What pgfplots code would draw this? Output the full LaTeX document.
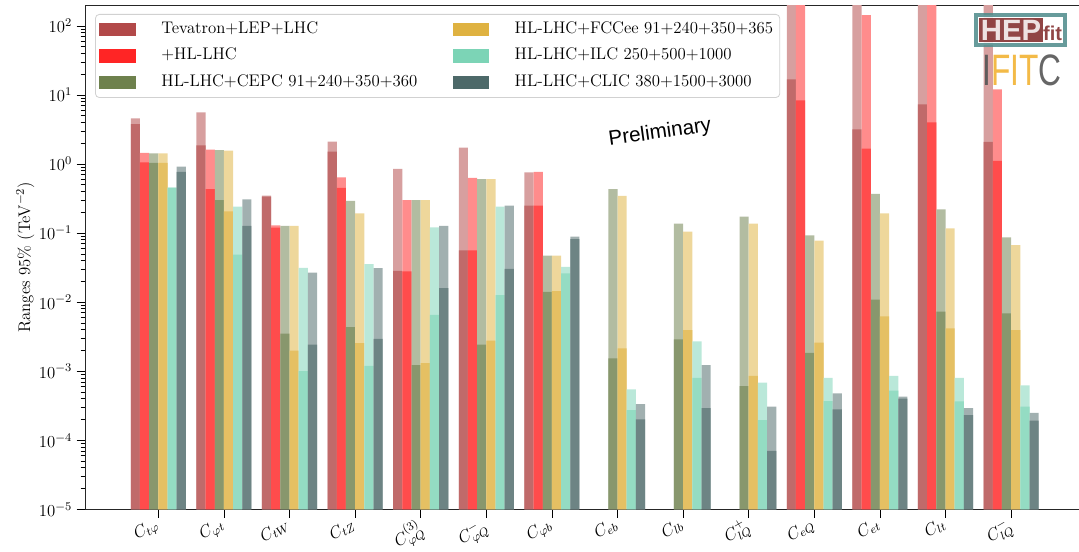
\RequirePackage{fix-cm}
\documentclass[border=0pt]{standalone}
\usepackage{fontspec}
\usepackage{pgfplots}
\usepackage{pgfplotstable}
\pgfplotsset{compat=1.18}
\newfontfamily\arialfont{Liberation Sans}
\definecolor{cbrown}{HTML}{A52A2A}
\definecolor{cred}{HTML}{FF0000}
\definecolor{cgreen}{HTML}{556B2F}
\definecolor{cgold}{HTML}{DAA520}
\definecolor{caqua}{HTML}{66CDAA}
\definecolor{cslate}{HTML}{2F4F4F}
\definecolor{hepred}{HTML}{7E2626}
\definecolor{hepteal}{HTML}{4C8A8A}
\definecolor{ificor}{HTML}{F2B233}
\definecolor{ificgr}{HTML}{555555}

\pgfplotstableread{
x light dark
0 4.6 3.8
1 5.6 1.87
2 0.348 0.339
3 2.11 1.51
4 0.85 0.0283
5 1.73 0.0563
6 0.76 0.25
10 1000 16.9
11 1000 3.19
12 1000 7.35
13 1000 2.09
}\tbrown
\pgfplotstableread{
x light dark
0 1.45 1.06
1 1.62 0.435
2 0.130 0.120
3 0.644 0.451
4 0.30 0.028
5 0.63 0.0563
6 0.77 0.25
10 1000 8.4
11 144 1.67
12 1000 4.03
13 12.1 1.11
}\tred
\pgfplotstableread{
x light dark
0 1.43 1.04
1 1.59 0.30
2 0.127 0.0035
3 0.292 0.00436
4 0.30 0.00123
5 0.603 0.00242
6 0.0472 0.0141
7 0.435 0.00154
8 0.137 0.0029
9 0.173 0.00061
10 0.093 0.00185
11 0.369 0.01086
12 0.221 0.00727
13 0.087 0.0069
}\tgreen
\pgfplotstableread{
x light dark
0 1.43 1.04
1 1.57 0.207
2 0.127 0.00198
3 0.194 0.00256
4 0.30 0.00131
5 0.603 0.00277
6 0.0472 0.0144
7 0.345 0.00215
8 0.105 0.00395
9 0.137 0.000853
10 0.078 0.00259
11 0.194 0.00624
12 0.1175 0.00419
13 0.0673 0.00395
}\tgold
\pgfplotstableread{
x light dark
0 0.455 0.455
1 0.241 0.0488
2 0.0313 0.0010
3 0.0357 0.00120
4 0.1216 0.00652
5 0.241 0.0127
6 0.0324 0.0262
7 0.000547 0.000274
8 0.00271 0.000798
9 0.000682 0.000196
10 0.000798 0.00037
11 0.000853 0.000522
12 0.000798 0.000366
13 0.000625 0.000306
}\taqua
\pgfplotstableread{
x light dark
0 0.917 0.77
1 0.309 0.127
2 0.0267 0.00242
3 0.031 0.00293
4 0.127 0.016
5 0.25 0.0303
6 0.089 0.0822
7 0.000335 0.000201
8 0.00123 0.000293
9 0.000306 0.00007
10 0.000479 0.00028
11 0.000428 0.0004
12 0.000293 0.000232
13 0.00025 0.000192
}\tslate

\newcommand{\series}[3]{%
  \addplot[ybar, bar width=0.14, bar shift=0pt, draw=none, fill=#2!45!white, forget plot]
    table[x expr=\thisrow{x}+(#3), y=light] {#1};
  \addplot[ybar, bar width=0.14, bar shift=0pt, draw=none, fill=#2!70!white, forget plot]
    table[x expr=\thisrow{x}+(#3), y=dark] {#1};
}
\newcommand{\fs}{\fontsize{12.6}{15}\selectfont}

\begin{document}
\begin{tikzpicture}
\useasboundingbox (-64pt,-31.3pt) rectangle (745.3pt,382pt);
\begin{axis}[
  at={(0,0)}, anchor=south west,
  scale only axis, width=749.8pt, height=378.1pt,
  xmin=-1.113, xmax=14.126,
  ymode=log, ymin=1e-5, ymax=200, log origin=infty,
  axis line style={black!85, line width=0.8pt},
  tick align=outside, tick style={black, line width=0.6pt},
  xtick pos=bottom, ytick pos=left,
  major tick length=6.5pt, minor tick length=3.6pt,
  xtick={0,...,13},
  xticklabels={$C_{t\varphi}$,$C_{\varphi t}$,$C_{tW}$,$C_{tZ}$,$C_{\varphi Q}^{(3)}$,$C_{\varphi Q}^{-}$,$C_{\varphi b}$,$C_{eb}$,$C_{lb}$,$C_{lQ}^{+}$,$C_{eQ}$,$C_{et}$,$C_{lt}$,$C_{lQ}^{-}$},
  xticklabel style={xshift=-3.5pt, yshift=1.5pt, rotate=30, anchor=north east, inner sep=0.5pt, font=\fs},
  yticklabel style={font=\fs},
  ytick={1e-5,1e-4,1e-3,1e-2,1e-1,1,10,100},
  ylabel={Ranges 95\% (TeV$^{-2}$)},
  ylabel style={at={(axis description cs:-0.060,0.5)}, anchor=center, font=\fs},
  legend image code/.code={\fill[#1, draw=none, sharp corners] (0pt,-4.9pt) rectangle (27.5pt,4.9pt);},
  legend cell align=left,
  legend columns=2,
  legend style={at={(axis description cs:0.0097,0.9826)}, anchor=north west,
    draw=black!18, line width=0.6pt, rounded corners=3pt, fill=white, fill opacity=0.85, text opacity=1,
    font=\fs, inner xsep=3pt, inner ysep=3.6pt,
    nodes={inner sep=2pt, text height=9pt, text depth=3pt},
    row sep=3.6pt,
    /tikz/every odd column/.append style={column sep=17pt},
    /tikz/every even column/.append style={column sep=24.5pt}},
]
\series{\tbrown}{cbrown}{-0.35}
\series{\tred}{cred}{-0.21}
\series{\tgreen}{cgreen}{-0.07}
\series{\tgold}{cgold}{0.07}
\series{\taqua}{caqua}{0.21}
\series{\tslate}{cslate}{0.35}

\addlegendimage{fill=cbrown}
\addlegendentry{Tevatron+LEP+LHC}
\addlegendimage{fill=cgold}
\addlegendentry{HL-LHC+FCCee 91+240+350+365}
\addlegendimage{fill=cred}
\addlegendentry{+HL-LHC}
\addlegendimage{fill=caqua}
\addlegendentry{HL-LHC+ILC 250+500+1000}
\addlegendimage{fill=cgreen}
\addlegendentry{HL-LHC+CEPC 91+240+350+360}
\addlegendimage{fill=cslate}
\addlegendentry{HL-LHC+CLIC 380+1500+3000}

\node[rotate=8, font=\arialfont\fontsize{15.5}{17}\selectfont] at (axis description cs:0.5749,0.7465) {Preliminary};

\node[opacity=0.85, draw=hepteal, line width=3pt, fill=white, inner xsep=2pt, inner ysep=2.5pt] at (axis description cs:0.9355,0.9508)
  {\setlength{\fboxsep}{1.5pt}\arialfont\bfseries\fontsize{22}{22}\selectfont\colorbox{hepred}{\color{white}HEP}\fontsize{15}{15}\selectfont\color{hepred}fit};
\node[opacity=0.9, inner sep=0pt] at (axis description cs:0.937,0.8705)
  {\scalebox{0.72}[1]{\arialfont\fontsize{33}{33}\selectfont\color{ificgr}I\color{ificor}FIT\color{ificgr}C}};
\end{axis}
\end{tikzpicture}
\end{document}
